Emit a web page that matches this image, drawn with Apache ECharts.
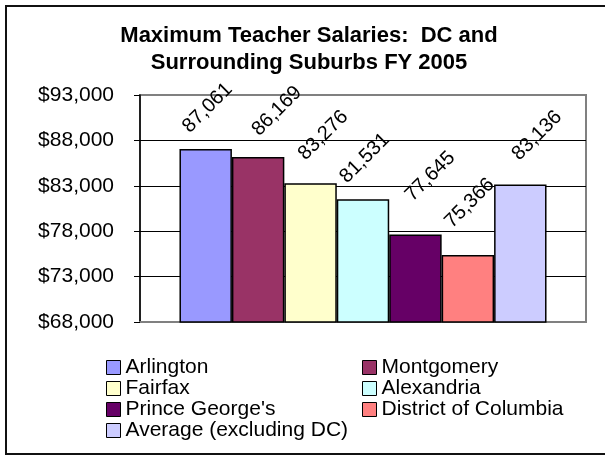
<!DOCTYPE html>
<html>
<head>
<meta charset="utf-8">
<title>Maximum Teacher Salaries</title>
<script src="https://cdn.jsdelivr.net/npm/echarts@6/dist/echarts.min.js"></script>
<style>
  html, body { margin: 0; padding: 0; background: #fff; }
  #chart { width: 605px; height: 457px; }
</style>
</head>
<body>
<div id="chart"></div>
<script>
// chart data
const jurisdictions = ['Arlington', 'Montgomery', 'Fairfax', 'Alexandria', "Prince George's", 'District of Columbia', 'Average (excluding DC)'];
const maxSalaries = [87061, 86169, 83276, 81531, 77645, 75366, 83136];
const yMin = 68000;
const yMax = 93000;
const yStep = 5000;

// styling per series (kept apart from the data)
const barColors = ['#9999FF', '#993366', '#FFFFCC', '#CCFFFF', '#660066', '#FF8080', '#CCCCFF'];
// label centre relative to the bar's top-left corner, as Excel placed them
const labelNudge = [[28, -41], [45, -46], [39, -48], [28, -41], [41, -58], [28, -52], [43, -49]];

const fontFamily = '"Liberation Sans", Arial, sans-serif';

function withCommas(v) {
  return String(v).replace(/\B(?=(\d{3})+(?!\d))/g, ',');
}

const chart = echarts.init(document.getElementById('chart'));

const series = jurisdictions.map((name, i) => ({
  name: name,
  type: 'bar',
  data: [maxSalaries[i]],
  barGap: '0%',
  barCategoryGap: '17.7%',
  itemStyle: {
    color: barColors[i],
    borderColor: '#000',
    borderWidth: 1.5
  },
  label: {
    show: true,
    position: labelNudge[i],
    rotate: 45,
    align: 'center',
    verticalAlign: 'middle',
    color: '#000',
    fontFamily: fontFamily,
    fontSize: 20,
    formatter: p => withCommas(p.value)
  }
}));

const legendText = {
  color: '#000',
  fontFamily: fontFamily,
  fontSize: 21,
  lineHeight: 19
};

const option = {
  backgroundColor: '#fff',
  animation: false,
  title: {
    text: 'Maximum Teacher Salaries:  DC and\nSurrounding Suburbs FY 2005',
    left: 309,
    top: 22,
    textAlign: 'center',
    padding: 0,
    textStyle: {
      color: '#000',
      fontFamily: fontFamily,
      fontSize: 22,
      fontWeight: 'bold',
      lineHeight: 27
    }
  },
  grid: {
    left: 140,
    right: 19,
    top: 95,
    bottom: 135,
    show: true,
    borderColor: '#808080',
    borderWidth: 2,
    backgroundColor: '#fff'
  },
  legend: [{
    orient: 'vertical',
    left: 106,
    top: 357,
    padding: 0,
    itemGap: 0,
    itemWidth: 14,
    itemHeight: 14,
    icon: 'rect',
    itemStyle: { borderColor: '#000', borderWidth: 1 },
    textStyle: legendText,
    data: [jurisdictions[0], jurisdictions[2], jurisdictions[4], jurisdictions[6]]
  }, {
    orient: 'vertical',
    left: 362,
    top: 357,
    padding: 0,
    itemGap: 0,
    itemWidth: 14,
    itemHeight: 14,
    icon: 'rect',
    itemStyle: { borderColor: '#000', borderWidth: 1 },
    textStyle: legendText,
    data: [jurisdictions[1], jurisdictions[3], jurisdictions[5]]
  }],
  xAxis: {
    type: 'category',
    data: ['FY 2005'],
    axisLine: { lineStyle: { color: '#808080', width: 2 } },
    axisTick: { show: false },
    axisLabel: { show: false }
  },
  yAxis: {
    type: 'value',
    min: yMin,
    max: yMax,
    interval: yStep,
    axisLine: { show: true, lineStyle: { color: '#000', width: 1.5 } },
    axisTick: { show: true, length: 6, lineStyle: { color: '#000' } },
    axisLabel: {
      color: '#000',
      fontFamily: fontFamily,
      fontSize: 21,
      margin: 26,
      formatter: v => '$' + withCommas(v)
    },
    splitLine: {
      showMinLine: false,
      showMaxLine: false,
      lineStyle: { color: '#000', width: 1 }
    }
  },
  graphic: [{
    type: 'rect',
    silent: true,
    shape: { x: 6, y: 6, width: 700, height: 448 },
    style: { fill: 'none', stroke: '#111', lineWidth: 2 }
  }],
  series: series
};

chart.setOption(option);
</script>
</body>
</html>
